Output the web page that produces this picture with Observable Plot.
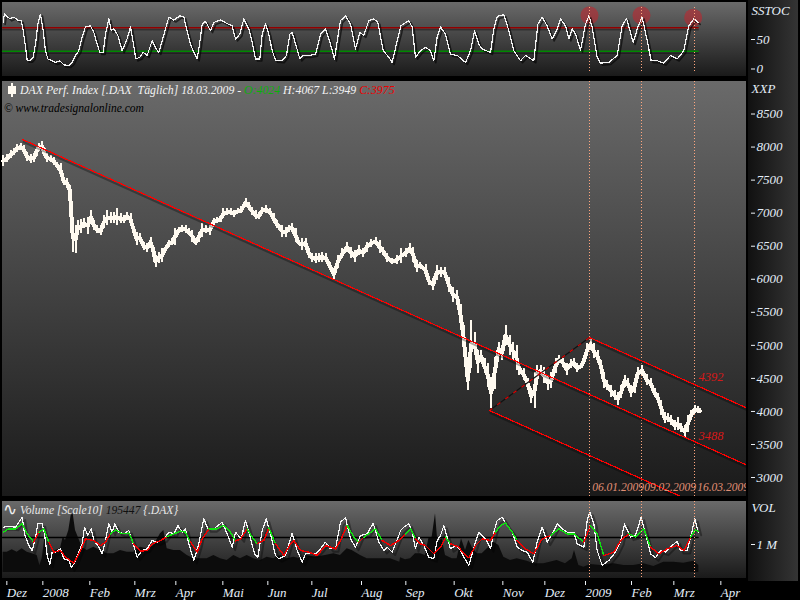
<!DOCTYPE html>
<html><head><meta charset="utf-8">
<script src="https://cdn.jsdelivr.net/npm/d3@7"></script>
<script src="https://cdn.jsdelivr.net/npm/@observablehq/plot@0.6"></script>
<style>
html,body{margin:0;padding:0;background:#000;}
#page{position:relative;width:800px;height:600px;overflow:hidden;background:#000;font-family:"Liberation Serif",serif;font-style:italic;}
.bg,.col,.holder,.txt{position:absolute;}
.bg{left:2px;width:744px;background:linear-gradient(#6a6a6a,#1a1a1a);}
.col{left:748px;width:50px;background:linear-gradient(90deg,#111,#343434);}
.holder{left:0;top:0;}
.holder svg{display:block;background:transparent!important;overflow:visible;}
.txt{white-space:pre;font-size:11.8px;line-height:14px;}
</style></head><body><div id="page">
<div class="bg" style="top:2px;height:74px"></div>
<div class="bg" style="top:81px;height:415px"></div>
<div class="bg" style="top:501px;height:77px"></div>
<div class="col" style="top:0;height:79px"></div>
<div class="col" style="top:79px;height:418px"></div>
<div class="col" style="top:497px;height:84px"></div>
</div>
<script>
// x position unit: chart slot (about a third of a session)
const xDomain = [6, 2238];
const tickSlots = [19,127,268,403,526,667,802,934,1083,1216,1361,1507,1633,1755,1893,2020,2161];
const tickLabels = ["Dez","2008","Feb","Mrz","Apr","Mai","Jun","Jul","Aug","Sep","Okt","Nov","Dez","2009","Feb","Mrz","Apr"];
const markerSlots = [1767,1923,2082];
const markerDates = ["06.01.2009","09.02.2009","16.03.2009"];

// DAX price bars
const priceSlots = [8,20,30,40,50,60,70,80,90,100,108,115,125,132,140,150,160,170,180,190,200,208,212,217,225,232,240,250,262,272,280,290,300,310,320,330,340,350,360,370,380,390,398,408,418,430,440,450,458,465,475,485,495,505,515,523,535,545,555,565,575,585,595,605,615,628,640,650,660,668,680,690,700,712,722,735,745,755,765,775,785,797,808,820,830,838,
845,855,865,875,885,895,905,915,925,935,945,955,965,975,988,1000,1012,1025,1040,1052,1062,1075,1088,1098,1110,1125,1137,1148,1160,1175,1190,1202,1215,1227,1238,1248,1258,1275,1285,1298,1308,1320,1332,1345,1358,1370,1380,1390,1402,1412,1422,1432,1442,1452,1462,1472,1482,1495,1505,1515,1528,1538,1548,1556,
1570,1582,1592,1602,1610,1620,1630,1642,1652,1665,1675,1688,1698,1710,1720,1730,1742,1752,1760,1770,1780,1792,1802,1810,1820,1832,1842,1852,1862,1872,1882,1892,1902,1912,1925,1938,1950,1962,1972,1982,1992,2002,2012,2022,2032,2042,2052,2062,2072,2082,2092,2098];
const priceHigh = [7870,7887,7948,7973,8038,8058,8023,7922,7887,7897,7998,8058,8084,7973,7907,7872,7847,7771,7746,7544,7519,7418,7282,6839,6814,6889,6899,6914,6940,7040,6889,6814,6788,6965,7040,7015,7015,7066,6990,6965,7015,6990,6839,6713,6688,6562,6536,6637,6511,6360,6410,6461,6486,6587,6612,6763,6788,6814,6814,6763,6738,6612,6713,6839,6814,6814,6914,6940,6965,7066,7066,7066,7040,7066,7101,7217,7166,7091,7040,7015,7081,7116,7066,6990,6889,6814,
6814,6779,6814,6839,6763,6587,6612,6612,6461,6385,6385,6385,6410,6385,6259,6158,6360,6461,6562,6486,6436,6511,6461,6562,6597,6627,6587,6486,6385,6310,6360,6461,6461,6547,6486,6284,6259,6224,6043,6007,6209,6184,6184,6023,5881,5831,5619,5302,4621,5377,5201,4924,4924,4798,4722,4521,4823,5050,5000,5302,5151,5050,5000,4747,
4645,4494,4342,4594,4695,4695,4670,4544,4594,4796,4846,4796,4720,4781,4796,4720,4720,4846,5023,5098,5023,4922,4771,4594,4468,4393,4317,4292,4393,4544,4494,4393,4494,4670,4695,4559,4494,4342,4267,4166,3990,3964,3939,3864,3914,3813,3788,3939,4015,4090,4075,4040];
const priceLow = [7710,7771,7822,7872,7922,7948,7897,7786,7756,7771,7857,7938,7938,7822,7761,7771,7721,7670,7544,7418,7368,7282,6763,6410,6385,6662,6688,6763,6678,6839,6738,6688,6662,6763,6814,6839,6839,6814,6839,6839,6889,6814,6713,6511,6562,6436,6410,6486,6385,6174,6234,6259,6436,6486,6511,6511,6688,6713,6688,6662,6562,6511,6562,6637,6688,6662,6839,6839,6864,6914,6965,6965,6940,6990,6990,7091,7040,6965,6899,6899,6990,6990,6965,6839,6763,6738,
6637,6637,6713,6713,6562,6511,6436,6486,6310,6259,6234,6259,6259,6259,6133,5992,6158,6310,6410,6310,6259,6360,6335,6410,6486,6511,6385,6360,6259,6224,6224,6244,6335,6385,6259,6108,6158,6058,5907,5831,5982,6033,6033,5806,5655,5630,5302,4873,4319,4647,4848,4571,4747,4571,4369,4042,4329,4848,4773,5000,4848,4773,4621,4546,
4468,4342,4116,4040,4418,4544,4418,4317,4342,4569,4720,4670,4544,4645,4670,4594,4645,4746,4846,4922,4796,4720,4569,4342,4317,4216,4166,4090,4191,4368,4342,4206,4267,4494,4544,4393,4368,4216,4141,3939,3813,3838,3788,3712,3712,3687,3602,3687,3864,3964,3964,3964];

// price channel lines
const mainLineSlots = [66,2238], mainLineValues = [8114,3190];
const upperLineSlots = [1767,2238], upperLineValues = [5119,4054];
const lowerLineSlots = [1467,2238], lowerLineValues = [4014,2266];
const linkSlots = [1467,1767], linkValues = [4014,5119];
const channelLabels = ["4392","3488","2583"], channelLabelValues = [4525,3621,2650];
const priceTicks = [3000,3500,4000,4500,5000,5500,6000,6500,7000,7500,8000,8500];

// SSTOC
const oscSlots = [8,12,20,28,40,52,62,68,75,80,90,98,105,112,120,128,135,142,155,165,178,190,205,215,225,235,245,255,270,280,290,298,308,315,325,332,340,352,365,378,390,398,406,418,428,440,455,467,475,485,495,505,520,538,550,558,570,580,590,597,605,615,630,640,660,680,695,705,718,730,745,755,765,778,785,795,805,815,825,845,858,868,875,888,898,908,925,945,960,975,990,1002,1012,1020,1035,1050,1065,1078,1090,1105,1120,1132,1148,1165,1175,1190,1198,
1200,1225,1235,1245,1260,1275,1290,1300,1310,1320,1335,1350,1370,1395,1410,1422,1435,1445,1470,1480,1490,1510,1525,1540,1560,1575,1600,1612,1625,1640,1655,1670,1680,1695,1705,1715,1725,1740,1755,1765,1775,1790,1800,1825,1850,1865,1878,1890,1898,1912,1925,1940,1952,1970,1990,2010,2030,2050,2065,2080,2093];
const oscValues = [79,94,89,85,88,83,82,65,37,15,15,20,42,76,93,65,31,17,14,11,14,7,6,11,23,31,54,72,73,62,42,28,28,59,85,65,68,57,31,48,71,45,17,20,28,23,48,34,28,48,68,88,83,90,88,68,42,28,17,42,76,81,65,79,83,77,73,51,59,85,68,45,17,17,59,77,59,31,15,14,23,59,62,37,17,23,23,25,59,68,42,17,54,82,90,76,34,62,57,82,85,79,31,20,11,48,65,
73,82,71,20,31,37,31,14,54,71,59,25,23,11,31,65,42,34,28,68,89,92,65,31,14,23,14,76,88,73,51,68,85,73,51,68,59,32,76,90,71,20,10,11,23,73,86,62,45,71,88,48,14,14,10,23,17,31,73,85,79];
const oscOverbought = 70, oscOversold = 30;
const oscEndSlot = 2093;
const signalSlots = [1767,1923,2078], signalValues = [91,91,87];
const oscTicks = [0,50];

// Volume, in chart units; volUnitsPerMillion units make one million
const volUnitsPerMillion = 102;
const volSlots = [8,25,45,55,65,72,85,95,105,112,125,132,140,148,155,165,180,190,205,213,225,235,245,252,262,272,280,295,305,315,325,335,343,355,370,385,395,410,425,440,455,470,490,505,520,532,545,555,565,580,595,610,622,640,665,680,695,705,722,735,748,762,772,785,797,810,825,835,855,875,890,905,915,930,945,960,975,990,1005,1020,1035,1050,1065,1080,1100,1118,1135,1150,1160,1175,1195,
1200,1210,1225,1235,1245,1255,1270,1285,1300,1310,1320,1330,1340,1350,1365,1380,1390,1405,1415,1425,1435,1445,1458,1470,1480,1490,1505,1520,1535,1550,1565,1580,1597,1610,1625,1640,1655,1670,1685,1700,1720,1730,1750,1760,1768,1780,1790,1805,1825,1845,1860,1872,1890,1905,1922,1935,1950,1965,1980,1995,2015,2030,2040,2060,2075,2083,2093];
const volLine = [154,156,154,169,184,134,99,84,124,164,164,134,69,42,79,79,89,59,54,32,54,79,104,154,129,149,114,94,74,114,164,139,164,139,134,144,114,64,84,89,114,109,119,139,134,159,139,149,104,54,104,179,149,149,169,134,94,139,119,174,129,74,64,144,179,134,69,59,69,136,84,49,74,74,74,89,109,89,89,169,182,119,94,129,134,166,109,84,94,79,129,
144,154,164,139,89,124,99,64,59,114,129,159,124,89,99,84,64,39,74,109,139,129,114,89,139,174,184,159,139,94,84,79,49,109,154,109,134,164,149,139,139,104,94,174,199,164,84,39,54,79,109,164,124,129,184,134,74,62,84,79,99,112,84,84,144,179,139];
const volAvgSlots = [8,25,45,65,80,100,115,130,145,160,180,195,220,240,255,280,300,315,330,345,365,385,400,420,440,455,480,500,520,540,555,570,590,605,625,650,670,690,705,720,740,755,770,790,805,825,850,870,880,900,925,950,975,1005,1020,1040,1060,1075,1090,1125,1145,1170,1195,
1200,1215,1230,1245,1260,1275,1300,1320,1335,1350,1375,1390,1405,1425,1445,1470,1485,1500,1515,1535,1550,1575,1600,1625,1650,1675,1700,1720,1750,1770,1790,1810,1840,1860,1885,1905,1930,1950,1975,2000,2030,2050,2070,2085,2093];
const volAvg = [139,149,149,164,134,109,139,149,109,79,84,64,46,84,119,114,99,109,134,146,134,136,104,82,84,104,114,126,134,142,139,109,79,119,149,149,159,139,112,119,149,124,104,114,152,104,69,104,114,84,79,69,99,89,114,159,124,109,124,149,114,99,114,
119,134,149,119,104,99,74,94,124,104,94,74,62,99,119,114,139,159,166,139,114,89,74,119,129,149,134,134,109,159,134,69,79,114,134,124,149,94,74,89,99,84,124,146,142];
const volBarSlots = [8,20,35,50,65,80,95,110,118,125,135,140,150,165,180,188,195,205,212,218,225,235,245,260,280,300,320,340,360,380,400,420,440,460,480,490,500,520,540,560,580,600,620,640,660,680,700,720,740,760,780,800,820,840,860,880,900,920,945,975,1000,1020,1040,1055,1080,1100,1130,1150,1170,1198,
1200,1215,1230,1245,1260,1275,1285,1295,1305,1312,1325,1335,1355,1370,1383,1395,1405,1415,1430,1445,1465,1480,1495,1510,1530,1550,1580,1600,1630,1670,1695,1715,1722,1735,1750,1770,1800,1840,1870,1900,1930,1960,1990,2020,2050,2080,2095];
const volBars = [79,79,86,79,89,79,74,69,39,59,134,69,69,84,89,124,114,144,189,194,144,119,94,84,94,84,74,74,84,79,79,94,89,99,134,144,89,84,84,69,59,59,59,69,59,54,69,59,69,59,54,64,59,69,59,64,59,69,64,69,74,69,89,84,69,59,59,59,59,49,
62,56,59,74,74,69,119,124,194,109,119,69,59,59,119,84,114,94,74,74,94,109,99,64,54,59,52,44,44,54,44,59,84,39,34,42,39,44,39,39,44,36,49,49,46,52,39];
const volBaseline = 18;
const volRef = 123;
const volTicks = [volUnitsPerMillion];

const font = {fontFamily:"Liberation Serif", fontStyle:"italic", fontSize:"13px", color:"#e4eef8", background:"transparent"};
const idx = a => a.map((_,i)=>i);
const page = document.getElementById("page");
const pairs = (xs,ys) => xs.map((x,i)=>[x,ys[i]]);
const crisp = {shapeRendering:"crispEdges"};
const dotted = {stroke:"#ffa67e",strokeWidth:1,strokeDasharray:"1,2",...crisp};
const markerRule = () => Plot.ruleX(markerSlots,dotted);
function mount(plot, top){
  const d=document.createElement("div"); d.className="holder"; d.style.top=top+"px"; d.appendChild(plot); page.appendChild(d);
}
const base = {width:800, marginLeft:2, marginRight:54, style:font, x:{domain:xDomain, axis:null}};
const yAxis = (ticks,fmt)=>Plot.axisY({anchor:"right",ticks,tickFormat:fmt,tickSize:4,tickPadding:2,dx:4,label:null,stroke:"#eef3f8",textStroke:"none"});
const sideTitle = (t,dy)=>Plot.text([t],{frameAnchor:"top-right",textAnchor:"start",dx:5,dy,fill:"#e4eef8",fontSize:13});

// SSTOC panel
mount(Plot.plot({...base,height:79,marginTop:2,marginBottom:3,
  y:{domain:[-12.7,112.7],axis:null},
  marks:[
    Plot.line(pairs([6,oscEndSlot],[oscOverbought,oscOverbought]),{stroke:"#000",strokeOpacity:.35,strokeWidth:1.5,dy:2}),
    Plot.line(pairs([6,oscEndSlot],[oscOversold,oscOversold]),{stroke:"#000",strokeOpacity:.35,strokeWidth:1.5,dy:2}),
    Plot.line(pairs([6,oscEndSlot],[oscOverbought,oscOverbought]),{stroke:"#920000",strokeWidth:1.4}),
    Plot.line(pairs([6,oscEndSlot],[oscOversold,oscOversold]),{stroke:"#008800",strokeWidth:1.4}),
    Plot.dot(idx(signalSlots),{x:i=>signalSlots[i],y:i=>signalValues[i],r:9,fill:"#c4222b",fillOpacity:.55}),
    Plot.line(idx(oscSlots),{x:i=>oscSlots[i],y:i=>oscValues[i],stroke:"#000",strokeOpacity:.6,strokeWidth:1.6,dx:2,dy:2}),
    Plot.line(idx(oscSlots),{x:i=>oscSlots[i],y:i=>oscValues[i],stroke:"#f4f4f4",strokeWidth:1.2,...crisp}),
    Plot.ruleX(markerSlots,{y1:-4,y2:108,...dotted}),
    yAxis(oscTicks,d=>String(d)),
    sideTitle("SSTOC",3)
  ]}),0);

// Price panel
const shadow = {stroke:"#000",strokeOpacity:.32,strokeWidth:2,dy:2.5,dx:1,clip:true};
const red = {stroke:"#ff0000",strokeWidth:1.2,clip:true,...crisp};
mount(Plot.plot({...base,height:419,marginTop:2,marginBottom:2,
  y:{domain:[2713,8992],axis:null},
  marks:[
    markerRule(),
    Plot.line(idx(priceSlots),{x:i=>priceSlots[i],y:i=>(priceHigh[i]+priceLow[i])/2,stroke:"#fffaf0",strokeWidth:4,...crisp}),
    Plot.ruleX(idx(priceSlots),{x:i=>priceSlots[i],y1:i=>priceLow[i],y2:i=>priceHigh[i],stroke:"#fffaf0",strokeWidth:2,...crisp}),
    Plot.line(pairs(mainLineSlots,mainLineValues),shadow),
    Plot.line(pairs(upperLineSlots,upperLineValues),shadow),
    Plot.line(pairs(lowerLineSlots,lowerLineValues),shadow),
    Plot.line(pairs(linkSlots,linkValues),{stroke:"#111",strokeWidth:1.2}),
    Plot.line(pairs(linkSlots,linkValues),{stroke:"#e00000",strokeWidth:1.2,strokeDasharray:"3,7"}),
    Plot.line(pairs(mainLineSlots,mainLineValues),red),
    Plot.line(pairs(upperLineSlots,upperLineValues),red),
    Plot.line(pairs(lowerLineSlots,lowerLineValues),red),
    Plot.text(channelLabels,{x:()=>markerSlots[2]+12,y:(d,i)=>channelLabelValues[i],text:d=>d,textAnchor:"start",fill:"#d81818",fontSize:12.5,clip:true}),
    Plot.text(markerDates,{x:(d,i)=>markerSlots[i]+8,y:()=>2849,text:d=>d,textAnchor:"start",fill:"#e08f74",fontSize:11.5,clip:true}),
    yAxis(priceTicks,d=>String(d)),
    sideTitle("XXP",2)
  ]}),79);

// Volume panel
mount(Plot.plot({...base,height:102,marginTop:3,marginBottom:22,
  y:{domain:[0,231],axis:null},color:{type:"identity"},
  marks:[
    Plot.areaY(idx(volBars),{x:i=>volBarSlots[i],y1:()=>volBaseline,y2:i=>volBars[i],fill:"#0c0c0c"}),
    Plot.line(pairs([6,oscEndSlot],[volRef,volRef]),{stroke:"#000",strokeWidth:1.3}),
    Plot.line(idx(volLine),{x:i=>volSlots[i],y:i=>volLine[i],stroke:"#000",strokeOpacity:.35,strokeWidth:2,dx:3,dy:3}),
    Plot.line(idx(volLine),{x:i=>volSlots[i],y:i=>volLine[i],stroke:"#f8f8f8",strokeWidth:1.2,...crisp}),
    Plot.line(idx(volAvg),{x:i=>volAvgSlots[i],y:i=>volAvg[i],z:null,stroke:i=>volAvg[i]>=volRef?"#10e010":"#f00000",strokeWidth:1.4,...crisp}),
    markerRule(),
    Plot.axisX({anchor:"bottom",ticks:tickSlots,tickFormat:d=>tickLabels[tickSlots.indexOf(d)],tickSize:4,tickPadding:2,dy:3,textAnchor:"start",dx:0,label:null,stroke:"#eef3f8",textStroke:"none"}),
    yAxis(volTicks,()=>"1 M"),
    sideTitle("VOL",1)
  ]}),498);

// Header text
function label(x,y,html){const d=document.createElement("div");d.className="txt";d.style.left=x+"px";d.style.top=y+"px";d.innerHTML=html;page.appendChild(d);}
const icon=document.createElement("div");
icon.style.cssText="position:absolute;left:8px;top:83px;width:2px;height:14px;";
icon.innerHTML='<div style="position:absolute;left:3px;top:0;width:2px;height:14px;background:#fffaf0"></div><div style="position:absolute;left:0;top:3px;width:8px;height:8px;background:#fffaf0"></div>';
page.appendChild(icon);
label(20,83,'<span style="color:#f2f2f2">DAX Perf. Index [.DAX  Täglich] 18.03.2009 - </span><span style="color:#0bb00b">O:4024</span><span style="color:#f2f2f2"> H:4067 L:3949 </span><span style="color:#ee0000">C:3975</span>');
label(4,101,'<span style="color:#000;font-size:11.5px">© www.tradesignalonline.com</span>');
label(3,503,'<span style="color:#f0f0f0;font-size:17px;font-style:normal">∿</span>');
label(20,503,'<span style="color:#e8e8e8;font-size:11.6px">Volume [Scale10] </span><span style="color:#111;font-size:11.6px">195447</span><span style="color:#e8e8e8;font-size:11.6px"> {.DAX}</span>');
</script></body></html>
